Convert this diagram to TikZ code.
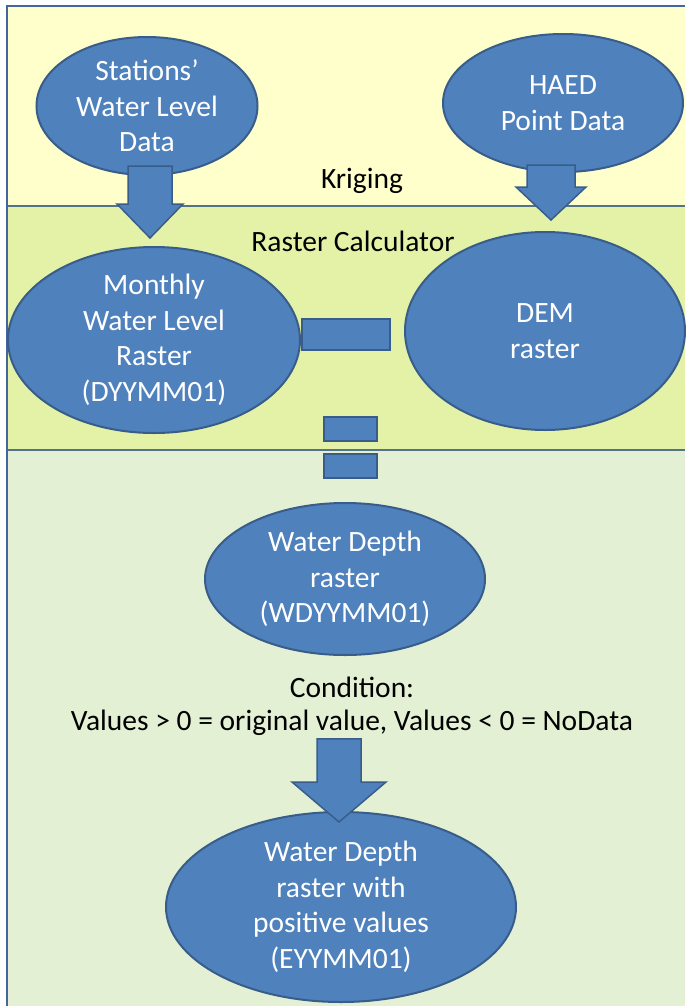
\documentclass[tikz,border=0pt]{standalone}
\usepackage{fontspec}
\setmainfont{Carlito}
\usetikzlibrary{calc,shapes.geometric}
\definecolor{bandA}{HTML}{FFFFCC}
\definecolor{bandB}{HTML}{E3F2A6}
\definecolor{bandC}{HTML}{E3F0D4}
\definecolor{sepline}{HTML}{52738A}
\definecolor{frameblue}{HTML}{44659E}
\definecolor{ellfill}{HTML}{4F81BD}
\definecolor{elldraw}{HTML}{385D8A}
\newcommand\blockarrow[5]{%
  \filldraw[ellfill, draw=elldraw, line width=1.5pt, line join=miter]
    let \p1=(#1), \p2=(#2) in
    (\x1-#3,\y1) -- (\x1+#3,\y1) -- (\x1+#3,\y2+#5) -- (\x1+#4,\y2+#5) --
    (\x1,\y2) -- (\x1-#4,\y2+#5) -- (\x1-#3,\y2+#5) -- cycle;}
\tikzset{
  oval/.style={ellipse, fill=ellfill, draw=elldraw, line width=2pt, inner sep=0pt,
    text=white, font=\fontsize{29.5}{35.5}\selectfont, align=center},
  opbox/.style={rectangle, fill=ellfill, draw=elldraw, line width=2pt, inner sep=0pt},
  label/.style={font=\fontsize{29.5}{33}\selectfont, align=center, text=black}
}
\begin{document}
\begin{tikzpicture}[x=1pt,y=-1pt]
\useasboundingbox (0,0) rectangle (685,1006);
% bands
\fill[bandA] (7,6) rectangle (685,206);
\fill[bandB] (7,206) rectangle (685,450);
\fill[bandC] (7,450) rectangle (685,1006);
\draw[sepline, line width=2.5pt] (7,206) -- (685,206);
\draw[sepline, line width=2.5pt] (7,450) -- (685,450);
\draw[frameblue, line width=2.5pt] (7,1006) -- (7,6) -- (685,6);

% top ellipses
\node[oval, minimum width=221, minimum height=138] (st) at (147,106) {Stations'\\Water Level\\Data};
\node[oval, minimum width=240, minimum height=138] (ha) at (563,103) {HAED\\Point Data};
\node[label] (kr) at (362,181) {Kriging};
\node[label] (rc) at (353,241) {Raster Calculator};

% middle ellipses
\node[oval, minimum width=292, minimum height=186] (mo) at (154,340) {Monthly\\Water Level\\Raster\\(DYYMM01)};
\node[oval, minimum width=280, minimum height=198] (dem) at (545,331) {DEM\\raster};

% kriging arrows
\coordinate (a1s) at ($(st.south)+(3,-10)$);
\coordinate (a1t) at ($(mo.north)+(-4,-8)$);
\blockarrow{a1s}{a1t}{22}{33}{34}
\coordinate (a2s) at ($(ha.south)+(-12,-8)$);
\coordinate (a2t) at ($(dem.north)+(6,-11)$);
\blockarrow{a2s}{a2t}{24}{35}{33}

% minus and equals
\node[opbox, minimum width=88, minimum height=31] (minus) at (346,334) {};
\node[opbox, minimum width=53, minimum height=24] (eqa) at (350,429) {};
\node[opbox, minimum width=53, minimum height=24] (eqb) at (350,466) {};

% water depth
\node[oval, minimum width=280, minimum height=152] (wd) at (345,579) {Water Depth\\raster\\(WDYYMM01)};
\node[label] (cond) at (352,706) {Condition:\\Values {>} 0 = original value, Values {<} 0 = NoData};

% bottom
\node[oval, minimum width=350, minimum height=190] (pos) at (341,907) {Water Depth\\raster with\\positive values\\(EYYMM01)};
\coordinate (a3s) at ($(cond.south)+(-13,0)$);
\coordinate (a3t) at ($(pos.north)+(-2,11)$);
\blockarrow{a3s}{a3t}{22}{47}{40}
\end{tikzpicture}
\end{document}
